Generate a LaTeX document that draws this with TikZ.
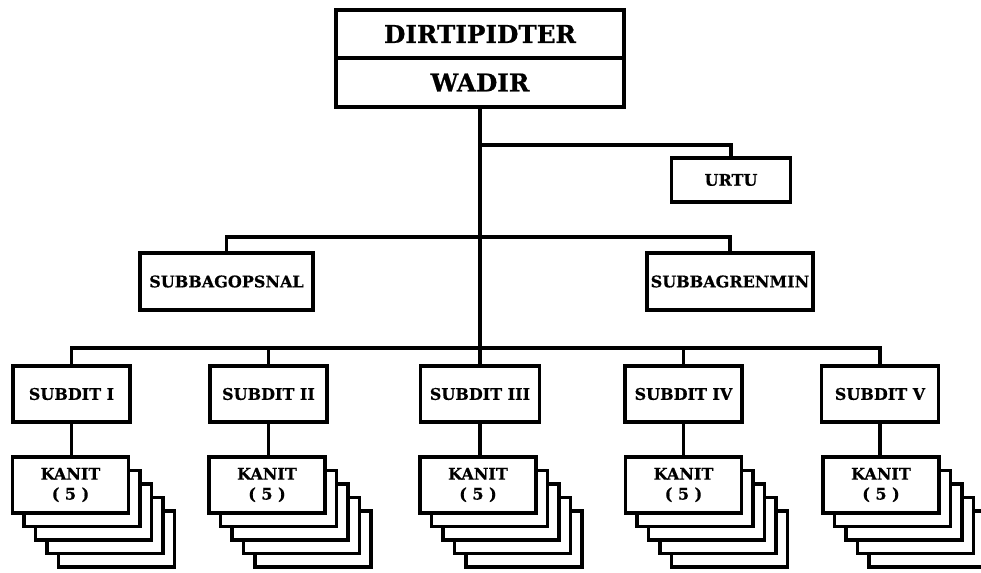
\documentclass[tikz,border=0pt]{standalone}
\usepackage{fontspec}
\setmainfont{DejaVu Serif}[BoldFeatures={FakeBold=0.6}]
\usetikzlibrary{backgrounds,calc}

\begin{document}
\begin{tikzpicture}[x=0.75pt,y=-0.75pt,
  unitbox/.style={draw, line width=2.8pt, fill=white, outer sep=0pt, inner sep=0pt,
    align=center, font=\bfseries\fontsize{12}{15}\selectfont},
  headbox/.style={unitbox, minimum width=216pt, font=\bfseries\fontsize{18.5}{22}\selectfont},
  subdit/.style={unitbox, minimum width=87.75pt, minimum height=42pt},
  kanit/.style={unitbox, minimum width=87pt, minimum height=42pt},
  card/.style={line width=2.8pt, fill=white},
  link/.style={line width=2.5pt}
]
\useasboundingbox (0,0) rectangle (981,573);

% head of the directorate
\node[headbox, minimum height=36pt] (dir) at (480,34) {DIRTIPIDTER};
\node[headbox, minimum height=36.75pt] (wadir) at (480,82.5) {WADIR};

% staff units
\node[unitbox, minimum width=89.25pt, minimum height=33pt] (urtu) at (731,180) {URTU};
\node[unitbox, minimum width=129.75pt, minimum height=42.75pt] (ops) at (226.5,281.5) {SUBBAGOPSNAL};
\node[unitbox, minimum width=124.5pt, minimum height=42.75pt] (ren) at (730,281.5) {SUBBAGRENMIN};

% sub-directorates
\node[subdit] (s1) at (71.5,394) {SUBDIT I};
\node[subdit] (s2) at (268.5,394) {SUBDIT II};
\node[subdit, minimum width=89.25pt] (s3) at (480,394) {SUBDIT III};
\node[subdit] (s4) at (683.5,394) {SUBDIT IV};
\node[subdit] (s5) at (880,394) {SUBDIT V};

% unit heads, each one a stack of five cards
\foreach \i/\x in {1/70.5, 2/267, 3/478, 4/683.5, 5/881}{
  \node[kanit] (k\i) at (\x,485) {KANIT\\( 5 )};
  \begin{pgfonlayer}{background}
    \foreach \k in {4,3,2,1}{
      \draw[card]
        ($(k\i.south west)+(11.5*\k,13.5*\k)$) rectangle ($(k\i.north east)+(11.5*\k,13.5*\k)$);
    }
  \end{pgfonlayer}
}

% bus levels
\coordinate (yu) at (0,145);
\coordinate (yb) at (0,237);
\coordinate (ys) at (0,348);

% connectors
\draw[link] (wadir.south) -- (s3.north);
\draw[link] (wadir.south |- yu) -| (urtu.north);
\draw[link] (ops.north) |- (wadir.south |- yb) -| (ren.north);
\draw[link] (s1.north) |- (s5.north |- ys) -- (s5.north);
\draw[link] (s2.north) -- (s2.north |- ys);
\draw[link] (s4.north) -- (s4.north |- ys);
\foreach \i in {1,...,5}{
  \draw[link] (s\i.south) -- (s\i.south |- k\i.north);
}
\end{tikzpicture}
\end{document}
